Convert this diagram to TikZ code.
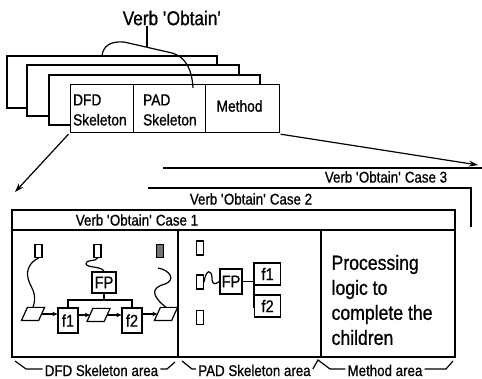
\documentclass[tikz,border=0pt]{standalone}
\usepackage{fontspec}
\setmainfont{Liberation Sans}[FakeStretch=0.86,FakeBold=0.8]
\usetikzlibrary{arrows.meta}
\newcommand\paradraw[1]{\draw ([xshift=-3pt]#1.south west) -- ([xshift=3pt]#1.north west) -- ([xshift=3pt]#1.north east) -- ([xshift=-3pt]#1.south east) -- cycle;}
\newcommand\q{\textquotesingle}
\begin{document}
\begin{tikzpicture}[x=1pt,y=-1pt,line width=1.2pt,
  card/.style={draw,fill=white},
  cell/.style={draw,fill=white,inner sep=0,minimum height=48pt},
  lbl/.style={inner sep=1.5pt,font=\fontsize{15.5}{18}\selectfont},
  celltxt/.style={inner sep=0,align=left,anchor=west,font=\fontsize{16}{20}\selectfont},
  fbox/.style={draw,fill=white,inner sep=0,font=\fontsize{17}{17}\selectfont},
  store/.style={draw,inner sep=0,minimum width=7pt,minimum height=13pt},
  para/.style={inner sep=0,minimum width=16pt,minimum height=12pt},
  bigarr/.style={-{Stealth[length=9pt,width=6pt]}},
  arr/.style={-{Stealth[length=5pt,width=4.5pt]}},
]
\useasboundingbox (0,0) rectangle (482,379);

% ---------- stacked cards ----------
\draw[card] (7,56) rectangle (217,108);
\draw[card] (27,65) rectangle (239,116);
\draw[card] (49,75) rectangle (260,125);
\node[cell,minimum width=63pt,anchor=north west] (dfdc) at (70,84) {};
\node[cell,minimum width=72pt,anchor=north west] (padc) at (133,84) {};
\node[cell,minimum width=74pt,anchor=north west] (metc) at (205,84) {};
\node[celltxt] (dfdt) at (72.5,110) {DFD\\Skeleton};
\node[celltxt] (padt) at (142.5,110) {PAD\\Skeleton};
\node[celltxt] (mett) at (216,106) {Method};

% ---------- title and its link ----------
\node[inner sep=0,font=\fontsize{20}{22}\selectfont] (title) at (172,18) {Verb \q Obtain\q};
\coordinate (c1) at (124,42);
\coordinate (c2) at (172,53);
\coordinate (tj) at (147,47.3);
\draw (102,56) .. controls (103,45) and (112,41) .. (c1) -- (c2)
      .. controls (186,57) and (192,70) .. (193,88);
\draw (title.south -| tj) -- (tj);

% ---------- arrows to the cases ----------
\coordinate (leftend) at (15,192);
\coordinate (rightend) at (478,165);
\draw[bigarr] ([shift={(-1.5,1)}]dfdc.south west) -- (leftend);
\draw[bigarr] ([shift={(0.5,1)}]metc.south east) -- (rightend);

% ---------- case frames ----------
\draw (163,168) -- (482,168);
\node[lbl] (case3) at (386,177) {Verb \q Obtain\q\ Case 3};
\draw (148,188) -- (471,188) -- (471,227);
\node[lbl] (case2) at (251,199) {Verb \q Obtain\q\ Case 2};
\draw[fill=white] (12,210) rectangle (455,357);
\draw (12,230) -- (455,230);
\node[lbl] (case1) at (137,220) {Verb \q Obtain\q\ Case 1};
\draw (178,230) -- (178,357);
\draw (321,230) -- (321,357);

% ---------- DFD skeleton ----------
\node[store] (s1) at (38.5,251) {};
\node[store] (s2) at (97.5,251) {};
\node[store,fill=black!55] (s3) at (160,251) {};
\node[fbox,minimum width=24pt,minimum height=21pt] (dfp) at (104,282.5) {FP};
\node[fbox,minimum width=20pt,minimum height=25pt] (f1) at (68,320.5) {f1};
\node[fbox,minimum width=20pt,minimum height=25pt] (f2) at (132,320.5) {f2};
\node[para] (lp) at (33,314) {};
\node[para] (mp) at (98.5,315) {};
\node[para] (rp) at (166,314) {};
\paradraw{lp}
\paradraw{mp}
\paradraw{rp}
\coordinate (by2) at (0,300);
\draw (dfp.south) -- (dfp.south |- by2);
\draw (f1.north) -- (f1.north |- by2) -- (f2.north |- by2) -- (f2.north);
\draw[arr] (lp.east) -- (lp.east -| f1.west);
\draw[arr] (f1.east |- mp.west) -- (mp.west);
\draw[arr] (mp.east) -- (mp.east -| f2.west);
\draw[arr] (f2.east |- rp.west) -- (rp.west);
\draw (s1.south) .. controls (30,262) and (26,270) .. (28,278)
      .. controls (30,288) and (38,292) .. (lp.north);
\draw (s2.south) .. controls (96,262) and (85,259) .. (86,264)
      .. controls (87,268) and (102,266) .. (dfp.north);
\draw (158,268) .. controls (170,270) and (176,280) .. (165,284)
      .. controls (150,288) and (152,296) .. (rp.north);

% ---------- PAD skeleton ----------
\node[store,minimum height=14pt] (p1) at (200,248) {};
\node[store,minimum height=14pt] (p2) at (200,282) {};
\node[store,minimum height=14pt] (p3) at (200,317.5) {};
\node[fbox,minimum width=22pt,minimum height=25pt] (pfp) at (231,281.5) {FP};
\node[fbox,minimum width=26pt,minimum height=22pt,anchor=west] (pf1) at (254,274) {f1};
\node[fbox,minimum width=26pt,minimum height=22pt,anchor=west] (pf2) at (254,306) {f2};
\coordinate (pv1) at (254,262);
\coordinate (pv2) at (254,308);
\draw (pv1) -- (pv2);
\draw (pfp.east) -- (pfp.east -| pv1);
\draw (p2.east) .. controls (206,268) and (212,270) .. (212,278)
      .. controls (212,286) and (216,284) .. (pfp.west);

% ---------- Method ----------
\node[inner sep=0,align=left,anchor=west,font=\fontsize{20.5}{25}\selectfont] (proc)
  at (331,300) {Processing\\logic to\\complete the\\children};

% ---------- area braces ----------
\coordinate (by) at (0,369);
\node[lbl,anchor=base] (dfda) at (101.5,376) {DFD Skeleton area};
\node[lbl,anchor=base] (pada) at (254.5,376) {PAD Skeleton area};
\node[lbl,anchor=base] (meta) at (385,376) {Method area};
\draw (15,361) -- (26,369) -- (dfda.west |- by);
\draw (dfda.east |- by) -- (167,369) -- (175,362);
\draw (182,361) -- (192,369) -- (pada.west |- by);
\draw (pada.east |- by) -- (318,360) -- (330,369) -- (meta.west |- by);
\draw (meta.east |- by) -- (446,369) -- (453,361);
\end{tikzpicture}
\end{document}
